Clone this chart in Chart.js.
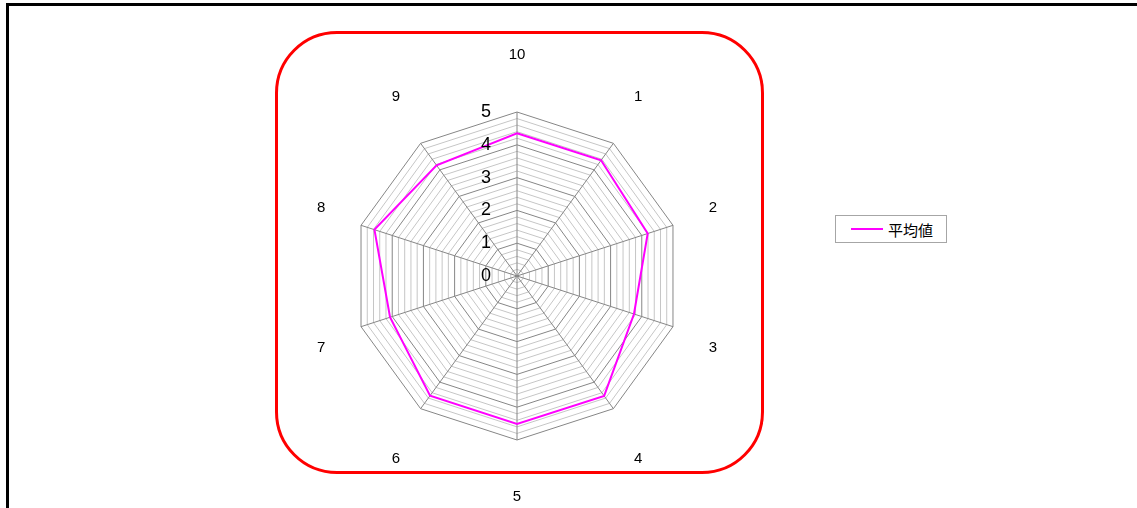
<!DOCTYPE html>
<html>
<head>
<meta charset="utf-8">
<script src="https://cdn.jsdelivr.net/npm/chart.js@4/dist/chart.umd.min.js"></script>
<style>
  html, body { margin: 0; padding: 0; background: #fff; overflow: hidden; }
  #wrap { position: relative; width: 1137px; height: 508px; overflow: hidden; }
  #frame { position: absolute; left: 6px; top: 3px; width: 1300px; height: 700px;
           border-top: 3px solid #000; border-left: 3px solid #000; }
  #panel { position: absolute; left: 275px; top: 31px; width: 483px; height: 437px;
           border: 3px solid #ff0000; border-radius: 62px; }
  #box { position: absolute; left: 0; top: 0; width: 1137px; height: 508px; }
  #legend { position: absolute; left: 835px; top: 215px; width: 112px; height: 28px;
            box-sizing: border-box; border: 1px solid #a6a6a6; background: #fff;
            display: flex; align-items: center;
            font-family: "Noto Sans CJK JP", sans-serif; font-size: 15px; color: #000; }
  #legend .swatch { display: inline-block; width: 32px; height: 2px; background: #ff00ff;
                    margin-left: 15px; margin-right: 5px; }
</style>
</head>
<body>
<div id="wrap">
  <div id="frame"></div>
  <div id="panel"></div>
  <div id="box"><canvas id="c"></canvas></div>
  <div id="legend"></div>
</div>
<script>
// Survey items, listed clockwise starting from the top spoke
const categories = ['10', '1', '2', '3', '4', '5', '6', '7', '8', '9'];
// Average score per item
const averages = [4.35, 4.36, 4.19, 3.75, 4.52, 4.51, 4.51, 4.07, 4.57, 4.17];
const seriesName = '平均値';
// Labels shown on the radial axis
const tickLabels = ['0', '1', '2', '3', '4', '5'];

const lineColor = '#ff00ff';

// HTML legend built from the series
const legendEl = document.getElementById('legend');
const sw = document.createElement('span');
sw.className = 'swatch';
sw.style.background = lineColor;
legendEl.appendChild(sw);
legendEl.appendChild(document.createTextNode(seriesName));

function isWhole(v) { return Math.abs(v - Math.round(v)) < 1e-6; }

// Draws the radial tick labels to the left of the top spoke and the
// category labels around the web.
const labelPlugin = {
  id: 'radarLabels',
  afterDraw(chart) {
    const scale = chart.scales.r;
    const ctx = chart.ctx;
    ctx.save();
    ctx.fillStyle = '#000';

    // radial axis values
    ctx.font = '18px "Liberation Sans Narrow", "Liberation Sans", sans-serif';
    ctx.textAlign = 'right';
    ctx.textBaseline = 'middle';
    tickLabels.forEach(t => {
      const d = scale.getDistanceFromCenterForValue(parseFloat(t));
      ctx.fillText(t, scale.xCenter - 26, scale.yCenter - d);
    });

    // category names
    ctx.font = '15px "Liberation Sans", sans-serif';
    ctx.textAlign = 'center';
    const R = scale.drawingArea;
    const kx = 1.256, ky = 1.348;
    chart.data.labels.forEach((lab, i) => {
      const a = scale.getIndexAngle(i) - Math.PI / 2;
      const x = scale.xCenter + Math.cos(a) * R * kx;
      let y = scale.yCenter + Math.sin(a) * R * ky;
      if (Math.sin(a) > 0.1 && Math.sin(a) < 0.99) y += 4;
      ctx.fillText(lab, x, y);
    });
    ctx.restore();
  }
};

new Chart(document.getElementById('c'), {
  type: 'radar',
  data: {
    labels: categories,
    datasets: [{
      label: seriesName,
      data: averages,
      borderColor: lineColor,
      borderWidth: 2,
      pointRadius: 0,
      pointHoverRadius: 0,
      fill: false,
      tension: 0
    }]
  },
  options: {
    responsive: true,
    maintainAspectRatio: false,
    animation: false,
    layout: { padding: { left: 353, right: 456, top: 112, bottom: 68 } },
    plugins: { legend: { display: false }, tooltip: { enabled: false } },
    scales: {
      r: {
        min: 0,
        max: 5,
        ticks: { stepSize: 0.2, display: false },
        grid: {
          color: c => (c.tick && isWhole(c.tick.value)) ? '#868686' : '#c6c6c6',
          lineWidth: 1
        },
        angleLines: { color: '#868686', lineWidth: 1 },
        pointLabels: { display: false }
      }
    }
  },
  plugins: [labelPlugin]
});
</script>
</body>
</html>
